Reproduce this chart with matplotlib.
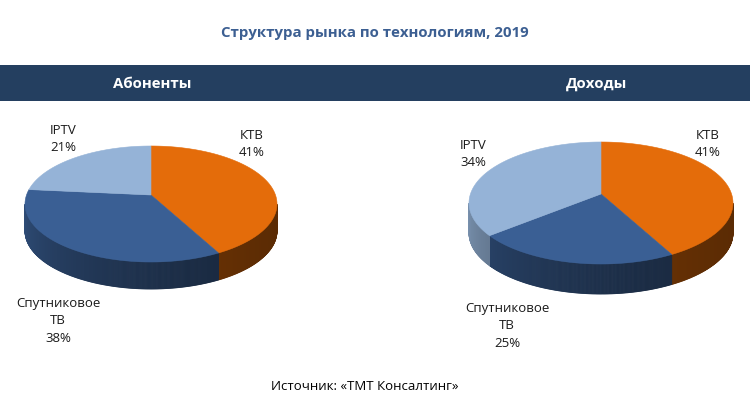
import numpy as np
import matplotlib.pyplot as plt
from matplotlib.patches import Polygon, Rectangle
from matplotlib.colors import to_rgb

plt.rcParams['font.family'] = ['Open Sans', 'DejaVu Sans']

# data
title = "Структура рынка по технологиям, 2019"
panel_titles = ["Абоненты", "Доходы"]
segments = ["КТВ", "Спутниковое\nТВ", "IPTV"]
subscribers = [41, 38, 21]
revenue = [41, 25, 34]
source = "Источник: «ТМТ Консалтинг»"

colors = ["#E46C0A", "#3A5F94", "#95B3D7"]
H = 410


def shade(color, f):
    r, g, b = to_rgb(color)
    return (r * f, g * f, b * f)


def pie3d(ax, values, cx, cy, a, b, depth, apex_dy):
    """ 3D-looking pie, clockwise from 12 o'clock, y axis up"""
    fr = np.array(values, dtype=float) / sum(values)
    edges = 90 - 360 * np.concatenate([[0], np.cumsum(fr)])

    def pt(t, dz=0.0):
        r = np.radians(t)
        return cx + a * np.cos(r), cy + b * np.sin(r) - dz

    # side walls (front half only), darker to the right
    for i in range(len(values)):
        t_hi, t_lo = edges[i], edges[i + 1]
        steps = np.arange(t_lo, t_hi, 0.5)
        steps = np.append(steps, t_hi)
        for ta, tb in zip(steps[:-1], steps[1:]):
            mid = (ta + tb) / 2
            if np.sin(np.radians(mid)) >= 0:
                continue
            u = ((mid % 360) - 180) / 180
            f = 0.40 + 0.42 * (1 - u) ** 2
            c = shade(colors[i], f)
            poly = [pt(ta), pt(tb), pt(tb, depth), pt(ta, depth)]
            ax.add_patch(Polygon(poly, closed=True, facecolor=c,
                                 edgecolor=c, linewidth=0.6))

    # top face
    for i in range(len(values)):
        ts = np.linspace(edges[i + 1], edges[i], 200)
        arc = [pt(t) for t in ts]
        poly = [(cx, cy + apex_dy)] + arc
        ax.add_patch(Polygon(poly, closed=True, facecolor=colors[i],
                             edgecolor=colors[i], linewidth=0.4))


fig = plt.figure(figsize=(7.5, 4.1), dpi=100)
ax = fig.add_axes([0, 0, 1, 1])
ax.set_xlim(0, 750)
ax.set_ylim(0, H)
ax.axis('off')

# title and band
ax.text(375, H - 33, title, ha='center', va='center', fontsize=10.8,
        fontweight='bold', color='#3C5F92')
ax.add_patch(Rectangle((0, H - 102), 750, 36, facecolor='#243F60', edgecolor='none'))
ax.text(152, H - 84, panel_titles[0], ha='center', va='center', fontsize=10.8,
        fontweight='bold', color='white')
ax.text(597, H - 84, panel_titles[1], ha='center', va='center', fontsize=10.8,
        fontweight='bold', color='white')

# pies
pie3d(ax, subscribers, 151, H - 205, 126, 58, 27, 9)
pie3d(ax, revenue, 601, H - 204, 132, 61, 30, 9)

lbl = dict(ha='center', va='center', fontsize=9.5, color='#1A1A1A', linespacing=1.45)
# left labels
ax.text(252, H - 144, f"{segments[0]}\n{subscribers[0]}%", **lbl)
ax.text(58, H - 321, f"{segments[1]}\n{subscribers[1]}%", **lbl)
ax.text(63, H - 139, f"{segments[2]}\n{subscribers[2]}%", **lbl)
# right labels
ax.text(708, H - 144, f"{segments[0]}\n{revenue[0]}%", **lbl)
ax.text(507, H - 326, f"{segments[1]}\n{revenue[1]}%", **lbl)
ax.text(473, H - 154, f"{segments[2]}\n{revenue[2]}%", **lbl)

ax.text(365, H - 387, source, ha='center', va='center', fontsize=9.5, color='black')

plt.savefig('out.png', dpi=100)
